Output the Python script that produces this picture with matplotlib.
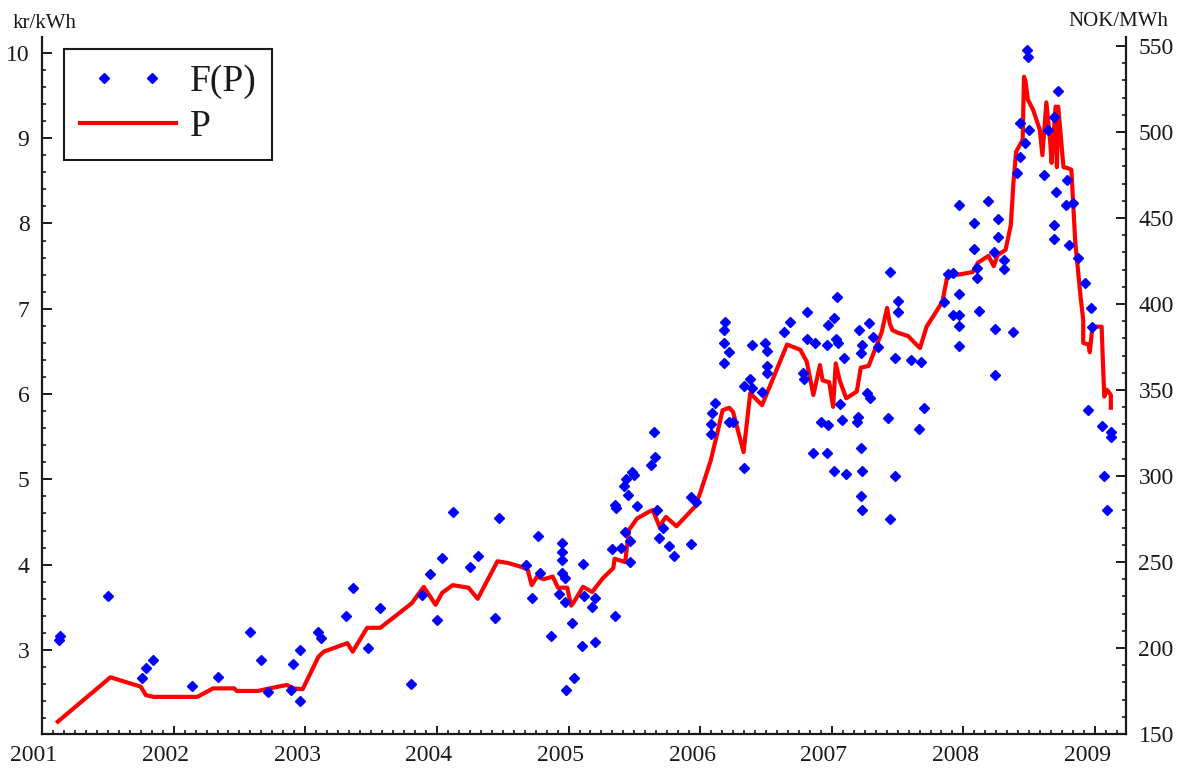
import numpy as np
import matplotlib.pyplot as plt
from matplotlib.ticker import MultipleLocator, FormatStrFormatter
from matplotlib.legend_handler import HandlerLine2D
import matplotlib.transforms as mtransforms

plt.rcParams['font.family'] = ['Liberation Serif', 'DejaVu Serif']

# F(P): scattered estimates (decimal year, kr/kWh)
fp_year = [
    2001.13, 2001.14, 2001.50, 2001.76, 2001.79, 2001.84, 2002.14, 2002.34, 2002.58, 2002.66,
    2002.72, 2002.89, 2002.91, 2002.96, 2002.96, 2003.10, 2003.12, 2003.31, 2003.36, 2003.48,
    2003.57, 2003.80, 2003.89, 2003.95, 2004.00, 2004.04, 2004.12, 2004.25, 2004.31, 2004.44,
    2004.47, 2004.68, 2004.72, 2004.77, 2004.78, 2004.87, 2004.93, 2004.95, 2004.95, 2004.95,
    2004.95, 2004.97, 2004.97, 2004.98, 2005.03, 2005.04, 2005.10, 2005.11, 2005.12, 2005.18,
    2005.20, 2005.20, 2005.33, 2005.35, 2005.35, 2005.36, 2005.40, 2005.43, 2005.42, 2005.44,
    2005.45, 2005.47, 2005.47, 2005.48, 2005.50, 2005.52, 2005.63, 2005.65, 2005.66, 2005.67,
    2005.69, 2005.72, 2005.76, 2005.80, 2005.93, 2005.93, 2005.97, 2006.08, 2006.08, 2006.09,
    2006.11, 2006.18, 2006.18, 2006.18, 2006.19, 2006.22, 2006.22, 2006.25, 2006.33, 2006.33,
    2006.38, 2006.39, 2006.39, 2006.47, 2006.49, 2006.51, 2006.51, 2006.51, 2006.64, 2006.68,
    2006.78, 2006.79, 2006.81, 2006.81, 2006.86, 2006.87, 2006.92, 2006.96, 2006.96, 2006.97,
    2006.97, 2007.02, 2007.02, 2007.04, 2007.03, 2007.05, 2007.06, 2007.08, 2007.09, 2007.11,
    2007.19, 2007.20, 2007.21, 2007.22, 2007.22, 2007.22, 2007.23, 2007.23, 2007.23, 2007.27,
    2007.28, 2007.29, 2007.31, 2007.35, 2007.43, 2007.44, 2007.44, 2007.48, 2007.48, 2007.50,
    2007.50, 2007.60, 2007.68, 2007.70, 2007.66, 2007.85, 2007.88, 2007.92, 2007.92, 2007.97,
    2007.97, 2007.97, 2007.97, 2007.97, 2008.08, 2008.08, 2008.10, 2008.10, 2008.12, 2008.19,
    2008.26, 2008.26, 2008.23, 2008.31, 2008.31, 2008.24, 2008.24, 2008.38, 2008.48, 2008.49,
    2008.72, 2008.69, 2008.50, 2008.64, 2008.43, 2008.47, 2008.43, 2008.41, 2008.61, 2008.70,
    2008.79, 2008.78, 2008.83, 2008.69, 2008.69, 2008.80, 2008.87, 2008.92, 2008.97, 2008.98,
    2008.95, 2009.05, 2009.12, 2009.12, 2009.07, 2009.09,
]
fp_value = [
    3.12, 3.16, 3.63, 2.67, 2.79, 2.88, 2.58, 2.68, 3.21, 2.88,
    2.51, 2.53, 2.84, 2.40, 3.00, 3.21, 3.14, 3.40, 3.73, 3.02,
    3.49, 2.60, 3.64, 3.89, 3.35, 4.08, 4.62, 3.97, 4.10, 3.38,
    4.55, 4.00, 3.61, 4.34, 3.90, 3.16, 3.66, 4.25, 4.15, 4.06,
    3.90, 3.84, 3.56, 2.53, 3.32, 2.67, 3.05, 4.01, 3.63, 3.50,
    3.61, 3.09, 4.18, 3.40, 4.70, 4.66, 4.20, 4.38, 4.92, 5.00,
    4.82, 4.03, 4.28, 5.09, 5.05, 4.69, 5.17, 5.55, 5.26, 4.64,
    4.31, 4.43, 4.22, 4.10, 4.24, 4.79, 4.74, 5.53, 5.65, 5.78,
    5.90, 6.36, 6.60, 6.75, 6.85, 6.49, 5.67, 5.67, 5.13, 6.09,
    6.18, 6.58, 6.07, 6.02, 6.60, 6.51, 6.33, 6.25, 6.73, 6.85,
    6.25, 6.18, 6.96, 6.65, 5.31, 6.60, 5.67, 6.58, 5.31, 5.64,
    6.81, 6.89, 5.10, 7.14, 6.65, 6.60, 5.88, 5.70, 6.42, 5.06,
    5.67, 5.73, 6.75, 6.48, 5.37, 4.81, 5.10, 4.64, 6.58, 6.01,
    6.83, 5.95, 6.67, 6.55, 5.72, 4.53, 7.43, 5.04, 6.42, 7.09,
    6.96, 6.40, 6.38, 5.84, 5.59, 7.08, 7.41, 7.42, 6.93, 7.17,
    6.93, 6.80, 6.56, 8.22, 8.01, 7.70, 7.48, 7.36, 6.97, 8.26,
    8.05, 7.84, 7.67, 7.57, 7.47, 6.76, 6.22, 6.73, 10.03, 9.95,
    9.55, 9.25, 9.10, 9.10, 9.18, 8.94, 8.78, 8.59, 8.57, 8.37,
    8.51, 8.22, 8.24, 7.98, 7.82, 7.75, 7.60, 7.30, 7.01, 6.79,
    5.81, 5.63, 5.56, 5.50, 5.04, 4.64,
]

# P: price curve (decimal year, kr/kWh)
p_year = [
    2001.12, 2001.52, 2001.75, 2001.79, 2001.85, 2002.18, 2002.30, 2002.46, 2002.48, 2002.64,
    2002.73, 2002.86, 2002.91, 2002.98, 2003.10, 2003.14, 2003.32, 2003.36, 2003.47, 2003.57,
    2003.72, 2003.81, 2003.90, 2003.99, 2004.04, 2004.12, 2004.24, 2004.31, 2004.46, 2004.54,
    2004.65, 2004.69, 2004.72, 2004.76, 2004.81, 2004.88, 2004.92, 2004.99, 2005.02, 2005.04,
    2005.11, 2005.18, 2005.26, 2005.34, 2005.35, 2005.43, 2005.46, 2005.52, 2005.61, 2005.64,
    2005.69, 2005.74, 2005.82, 2005.96, 2006.00, 2006.08, 2006.13, 2006.17, 2006.22, 2006.25,
    2006.33, 2006.38, 2006.47, 2006.66, 2006.76, 2006.81, 2006.86, 2006.91, 2006.93, 2006.98,
    2007.01, 2007.03, 2007.06, 2007.11, 2007.19, 2007.22, 2007.28, 2007.38, 2007.42, 2007.44,
    2007.46, 2007.50, 2007.58, 2007.63, 2007.67, 2007.72, 2007.84, 2007.88, 2007.96, 2008.07,
    2008.11, 2008.19, 2008.23, 2008.26, 2008.32, 2008.36, 2008.38, 2008.40, 2008.45, 2008.46,
    2008.47, 2008.49, 2008.53, 2008.58, 2008.60, 2008.63, 2008.65, 2008.66, 2008.67, 2008.70,
    2008.71, 2008.72, 2008.76, 2008.79, 2008.82, 2008.85, 2008.89, 2008.91, 2008.91, 2008.95,
    2008.96, 2008.98, 2009.05, 2009.06, 2009.07, 2009.09, 2009.12, 2009.12,
]
p_value = [
    2.16, 2.68, 2.57, 2.47, 2.45, 2.45, 2.55, 2.55, 2.52, 2.52,
    2.55, 2.59, 2.55, 2.54, 2.92, 2.98, 3.08, 2.98, 3.26, 3.26,
    3.44, 3.55, 3.74, 3.53, 3.67, 3.76, 3.73, 3.60, 4.04, 4.02,
    3.97, 3.94, 3.76, 3.86, 3.83, 3.86, 3.73, 3.73, 3.52, 3.56,
    3.74, 3.68, 3.84, 3.96, 4.07, 4.03, 4.41, 4.54, 4.62, 4.64,
    4.45, 4.56, 4.45, 4.68, 4.84, 5.22, 5.54, 5.81, 5.84, 5.79,
    5.32, 6.01, 5.87, 6.58, 6.52, 6.38, 5.99, 6.34, 6.16, 6.14,
    5.85, 6.36, 6.16, 5.95, 6.03, 6.31, 6.33, 6.73, 7.01, 6.83,
    6.75, 6.72, 6.68, 6.60, 6.54, 6.79, 7.08, 7.40, 7.40, 7.43,
    7.54, 7.62, 7.50, 7.63, 7.69, 7.98, 8.48, 8.84, 8.98, 9.72,
    9.68, 9.45, 9.33, 9.10, 8.80, 9.42, 9.10, 8.94, 8.71, 9.37,
    8.66, 9.37, 8.66, 8.65, 8.63, 7.77, 7.14, 6.87, 6.60, 6.58,
    6.49, 6.79, 6.79, 6.36, 5.97, 6.05, 5.99, 5.84,
]

fig = plt.figure(figsize=(11.83, 7.72), dpi=100)
ax = fig.add_axes([42 / 1183, 38 / 772, 1084 / 1183, 697 / 772])
ax2 = ax.twinx()

p_line, = ax.plot(p_year, p_value, color='#ff0000', lw=3, label='P', zorder=3)
fp_pts, = ax.plot(fp_year, fp_value, ls='none', marker='D', ms=4.8, color='#0000ff',
                  mec='#0000ff', label='F(P)', zorder=4)

ax.set_xlim(2001, 2009.235)
ax.set_ylim(2.015, 10.186)
ax2.set_ylim(150, 555.2)

txt = '#1a1a1a'
for a in (ax, ax2):
    a.spines['top'].set_visible(False)
    for s in a.spines.values():
        s.set_linewidth(1.6)
        s.set_color(txt)
ax.spines['right'].set_visible(False)
ax2.spines['left'].set_visible(False)
ax2.spines['bottom'].set_visible(False)

ax.xaxis.set_major_locator(MultipleLocator(1))
ax.xaxis.set_minor_locator(MultipleLocator(1 / 12))
ax.xaxis.set_major_formatter(FormatStrFormatter('%d'))
ax.yaxis.set_major_locator(MultipleLocator(1))
ax.yaxis.set_minor_locator(MultipleLocator(0.2))
ax.yaxis.set_major_formatter(FormatStrFormatter('%d'))
ax2.yaxis.set_major_locator(MultipleLocator(50))
ax2.yaxis.set_minor_locator(MultipleLocator(10))

ax.tick_params(axis='x', which='major', direction='in', length=6, width=1.4,
               pad=8, labelsize=17, colors=txt)
ax.tick_params(axis='x', which='minor', direction='in', length=3, width=1.2, colors=txt)
ax.tick_params(axis='y', which='major', direction='in', length=7, width=1.4,
               pad=9, labelsize=17, colors=txt)
ax.tick_params(axis='y', which='minor', direction='in', length=3, width=1.2, colors=txt)
ax2.tick_params(axis='y', which='major', direction='in', length=7, width=1.4,
                pad=9, labelsize=17, colors=txt)
ax2.tick_params(axis='y', which='minor', direction='in', length=3, width=1.2, colors=txt)

# year labels sit a little left of their ticks
shift = mtransforms.ScaledTranslation(-0.08, 0, fig.dpi_scale_trans)
for lab in ax.get_xticklabels():
    lab.set_transform(lab.get_transform() + shift)

fig.text(13 / 1183, 1 - 23 / 772, 'kr/kWh', fontsize=15, color=txt, va='center', ha='left')
fig.text(1168 / 1183, 1 - 21 / 772, 'NOK/MWh', fontsize=15, color=txt, va='center', ha='right')

leg = ax.legend([fp_pts, p_line], ['F(P)', 'P'], loc='upper left',
                bbox_to_anchor=(22 / 1084, 1 - 12 / 697), borderaxespad=0,
                fontsize=27, numpoints=2, handlelength=2.56, handletextpad=0.37,
                labelspacing=0.28, borderpad=0.42, fancybox=False, framealpha=1,
                handler_map={fp_pts: HandlerLine2D(marker_pad=0.64),
                             p_line: HandlerLine2D(marker_pad=0)})
leg.get_frame().set_edgecolor(txt)
leg.get_frame().set_linewidth(1.5)
for t in leg.get_texts():
    t.set_color(txt)

fig.savefig('out.png', dpi=100)
